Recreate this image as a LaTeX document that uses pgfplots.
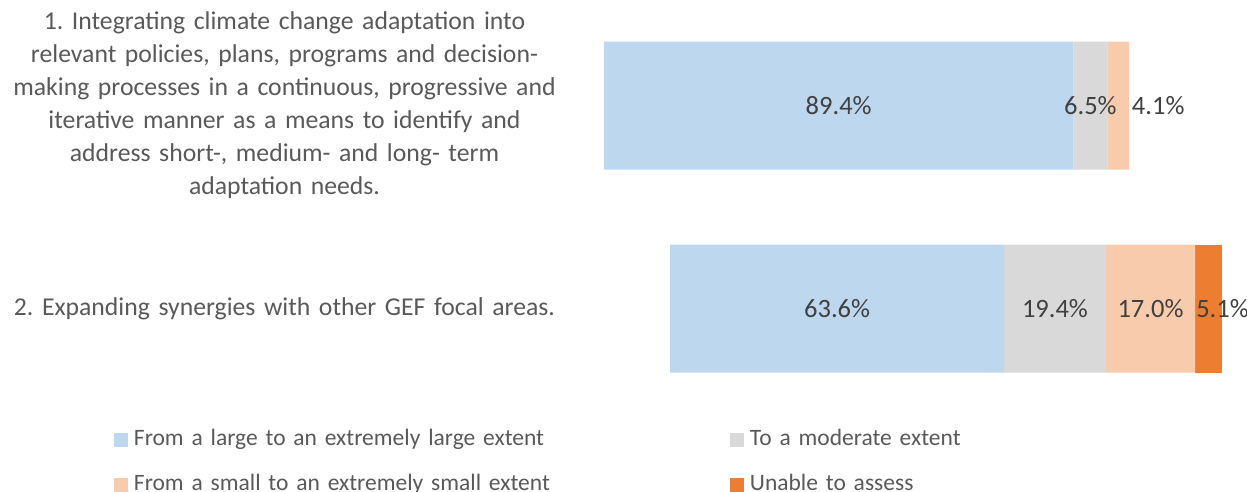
\documentclass[border=0pt]{standalone}
\usepackage{pgfplots}
\usepackage{pgfplotstable}
\pgfplotsset{compat=1.18}
\usepackage{fontspec}
\setmainfont{Carlito}
\frenchspacing
\definecolor{cBlue}{HTML}{BDD7EE}
\definecolor{cGrey}{HTML}{D9D9D9}
\definecolor{cPeach}{HTML}{F8CBAD}
\definecolor{cOrange}{HTML}{ED7D31}
\definecolor{txt}{HTML}{595959}
\definecolor{lbl}{HTML}{404040}

% y: 0 = item 1, 1 = item 2 ; off = invisible offset
\pgfplotstableread{
y off large mod small unable exS exU opU
0 0    89.4 6.5  4.1  0   40 0  0
1 12.6 63.6 19.4 17.0 5.1 0  14 1
}\data

\begin{document}
\begin{tikzpicture}
\begin{axis}[
  name=ax,
  scale only axis,
  width=630pt, height=414.1pt,
  xmin=0, xmax=120,
  ymin=-0.52, ymax=1.52,
  y dir=reverse,
  xbar stacked,
  bar width=128pt,
  clip=false,
  axis line style={draw=none},
  tick style={draw=none},
  xtick=\empty,
  ytick={0,1},
  yticklabels={{1. Integrating climate change adaptation into\\relevant policies, plans, programs and decision-\\making processes in a continuous, progressive and\\iterative manner as a means to identify and\\address short-, medium- and long- term\\adaptation needs.},{2. Expanding synergies with other GEF focal areas.}},
  yticklabel style={font=\fontsize{25.7pt}{33pt}\selectfont, text=txt, text width=560pt, align=center, inner sep=0pt, anchor=east, xshift=-39.3pt},
  nodes near coords={\pgfmathprintnumber[fixed,fixed zerofill,precision=1,assume math mode=true]{\pgfplotspointmeta}\%},
  point meta=explicit,
  every node near coord/.append style={font=\fontsize{26.5pt}{30pt}\selectfont, text=lbl, anchor=center},
  legend columns=2,
  legend style={draw=none, fill=none, inner sep=0pt, outer sep=0pt,
    at={(rel axis cs:-0.7778,0)}, anchor=north west, yshift=-14pt,
    font=\fontsize{23.5pt}{28pt}\selectfont, text=txt,
    nodes={inner sep=0pt, text height=17pt, text depth=6pt, text width=582pt, align=left},
    row sep=22pt,
    /tikz/every even column/.append style={column sep=14pt},
    /tikz/every odd column/.append style={column sep=6pt}},
  legend cell align=left,
  legend image code/.code={\fill[#1] (0pt,-7pt) rectangle (14pt,7pt);},
]
\addplot[draw=none, fill=none, forget plot, nodes near coords={}] table[x=off, y=y, meta=off] {\data};
\addplot[fill=cBlue, draw=none] table[x=large, y=y, meta=large] {\data};
\addplot[fill=cGrey, draw=none] table[x=mod, y=y, meta=mod] {\data};
\addplot[fill=cPeach, draw=none,
  visualization depends on={\thisrow{exS}\as\e},
  every node near coord/.append style={xshift={\e*1pt}}]
  table[x=small, y=y, meta=small] {\data};
\addplot[fill=cOrange, draw=none,
  visualization depends on={\thisrow{exU}\as\e},
  visualization depends on={\thisrow{opU}\as\o},
  every node near coord/.append style={xshift={\e*1pt}, opacity=\o}]
  table[x=unable, y=y, meta=unable] {\data};
\legend{From a large to an extremely large extent, To a moderate extent, From a small to an extremely small extent, Unable to assess}
\end{axis}
\pgfresetboundingbox
\path[use as bounding box] ([xshift=-604pt]ax.north west) rectangle ([xshift=643pt,yshift=-491pt]ax.north west);
\end{tikzpicture}
\end{document}
